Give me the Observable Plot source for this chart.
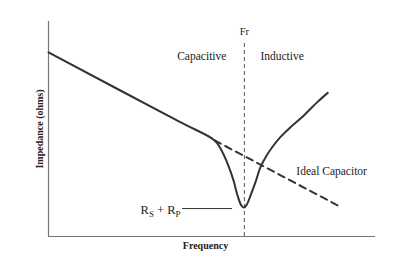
<!DOCTYPE html>
<html>
<head>
<meta charset="utf-8">
<script src="https://cdn.jsdelivr.net/npm/d3@7"></script>
<script src="https://cdn.jsdelivr.net/npm/@observablehq/plot@0.6"></script>
<style>
  html, body { margin: 0; padding: 0; background: #fff; }
  #chart svg { display: block; }
</style>
</head>
<body>
<div id="chart"></div>
<script>
// Measured impedance of a real capacitor vs. frequency (arbitrary units)
const measuredFreq = [0, 40, 50.8, 52.6, 55.0, 56.6, 57.8, 59.0, 59.8, 60.7, 61.8, 63.3, 64.8, 66.4, 68.4, 70.9, 74.0, 78.1, 82.2, 85.4];
const measuredImp  = [85.6, 53.4, 44.7, 40.9, 33.0, 26.0, 19.1, 14.4, 13.5, 15.0, 19.1, 25.3, 32.2, 36.9, 41.5, 46.2, 50.8, 56.3, 62.5, 66.8];

// Ideal capacitor continues the straight fall past the bend
const idealFreq = [50.8, 89];
const idealImp  = [44.7, 14.0];

// Self-resonant frequency
const resonantFreq = [59.9];
const resonantLabel = ["Fr"];

// Region labels either side of resonance
const capacitiveLabel = ["Capacitive"];
const inductiveLabel = ["Inductive"];
const regionFreq = [54.4, 64.8];
const regionImp = 83.7;

const idealLabel = ["Ideal Capacitor"];
const idealLabelPos = [75.8, 30.2];

const resistLabel = ["RS + RP"];
const resistLabelPos = [40.4, 12.2];
const resistLeader = [41.0, 56.3, 13.0];

const xTitle = "Frequency";
const yTitle = "Impedance (ohms)";

const measured = measuredFreq.map((f, i) => ({f, z: measuredImp[i]}));
const ideal = idealFreq.map((f, i) => ({f, z: idealImp[i]}));

const font = "'Liberation Serif', 'DejaVu Serif', serif";
const ink = "#222";

const chart = Plot.plot({
  width: 408,
  height: 257,
  marginLeft: 48,
  marginRight: 33,
  marginTop: 21,
  marginBottom: 21,
  x: {domain: [0, 100], axis: null},
  y: {domain: [0, 100], axis: null},
  style: {fontFamily: font, background: "#fff"},
  marks: [
    // axes
    Plot.ruleX([0], {stroke: "#777", strokeWidth: 1.2}),
    Plot.ruleY([0], {stroke: "#777", strokeWidth: 1.2}),
    // resonance marker
    Plot.ruleX(resonantFreq, {y1: 0, y2: 91.2, stroke: "#555", strokeWidth: 1, strokeDasharray: "4,3"}),
    Plot.text(resonantLabel, {x: resonantFreq[0], y: 95.3, text: d => d, fontSize: 10.5, fill: ink}),
    // ideal capacitor
    Plot.line(ideal, {x: "f", y: "z", stroke: "#333", strokeWidth: 2, strokeDasharray: "7,5"}),
    // measured curve
    Plot.line(measured, {x: "f", y: "z", curve: "catmull-rom", stroke: "#333", strokeWidth: 2}),
    // labels
    Plot.text(capacitiveLabel, {x: regionFreq[0], y: regionImp, text: d => d, textAnchor: "end", fontSize: 11.5, fill: ink}),
    Plot.text(inductiveLabel, {x: regionFreq[1], y: regionImp, text: d => d, textAnchor: "start", fontSize: 11.5, fill: ink}),
    Plot.text(idealLabel, {x: idealLabelPos[0], y: idealLabelPos[1], text: d => d, textAnchor: "start", fontSize: 11.5, fill: ink}),
    Plot.text(resistLabel, {x: resistLabelPos[0], y: resistLabelPos[1], text: d => d, textAnchor: "end", fontSize: 12.5, fill: ink}),
    Plot.ruleY([resistLeader[2]], {x1: resistLeader[0], x2: resistLeader[1], stroke: "#333", strokeWidth: 1}),
    // axis titles
    Plot.text([xTitle], {x: 48, y: -4.3, text: d => d, fontSize: 10, fontWeight: "bold", fill: ink}),
    Plot.text([yTitle], {x: -2.8, y: 50, text: d => d, rotate: -90, fontSize: 10, fontWeight: "bold", fill: ink})
  ]
});

// Subscripts for the resistance label: R_S + R_P
d3.select(chart).selectAll("text").each(function() {
  if (this.textContent === resistLabel[0]) {
    const t = d3.select(this);
    t.text(null);
    t.append("tspan").text("R");
    t.append("tspan").text("S").attr("font-size", "9").attr("dy", "3");
    t.append("tspan").text(" + R").attr("dy", "-3");
    t.append("tspan").text("P").attr("font-size", "9").attr("dy", "3");
  }
});

document.getElementById("chart").append(chart);
</script>
</body>
</html>
